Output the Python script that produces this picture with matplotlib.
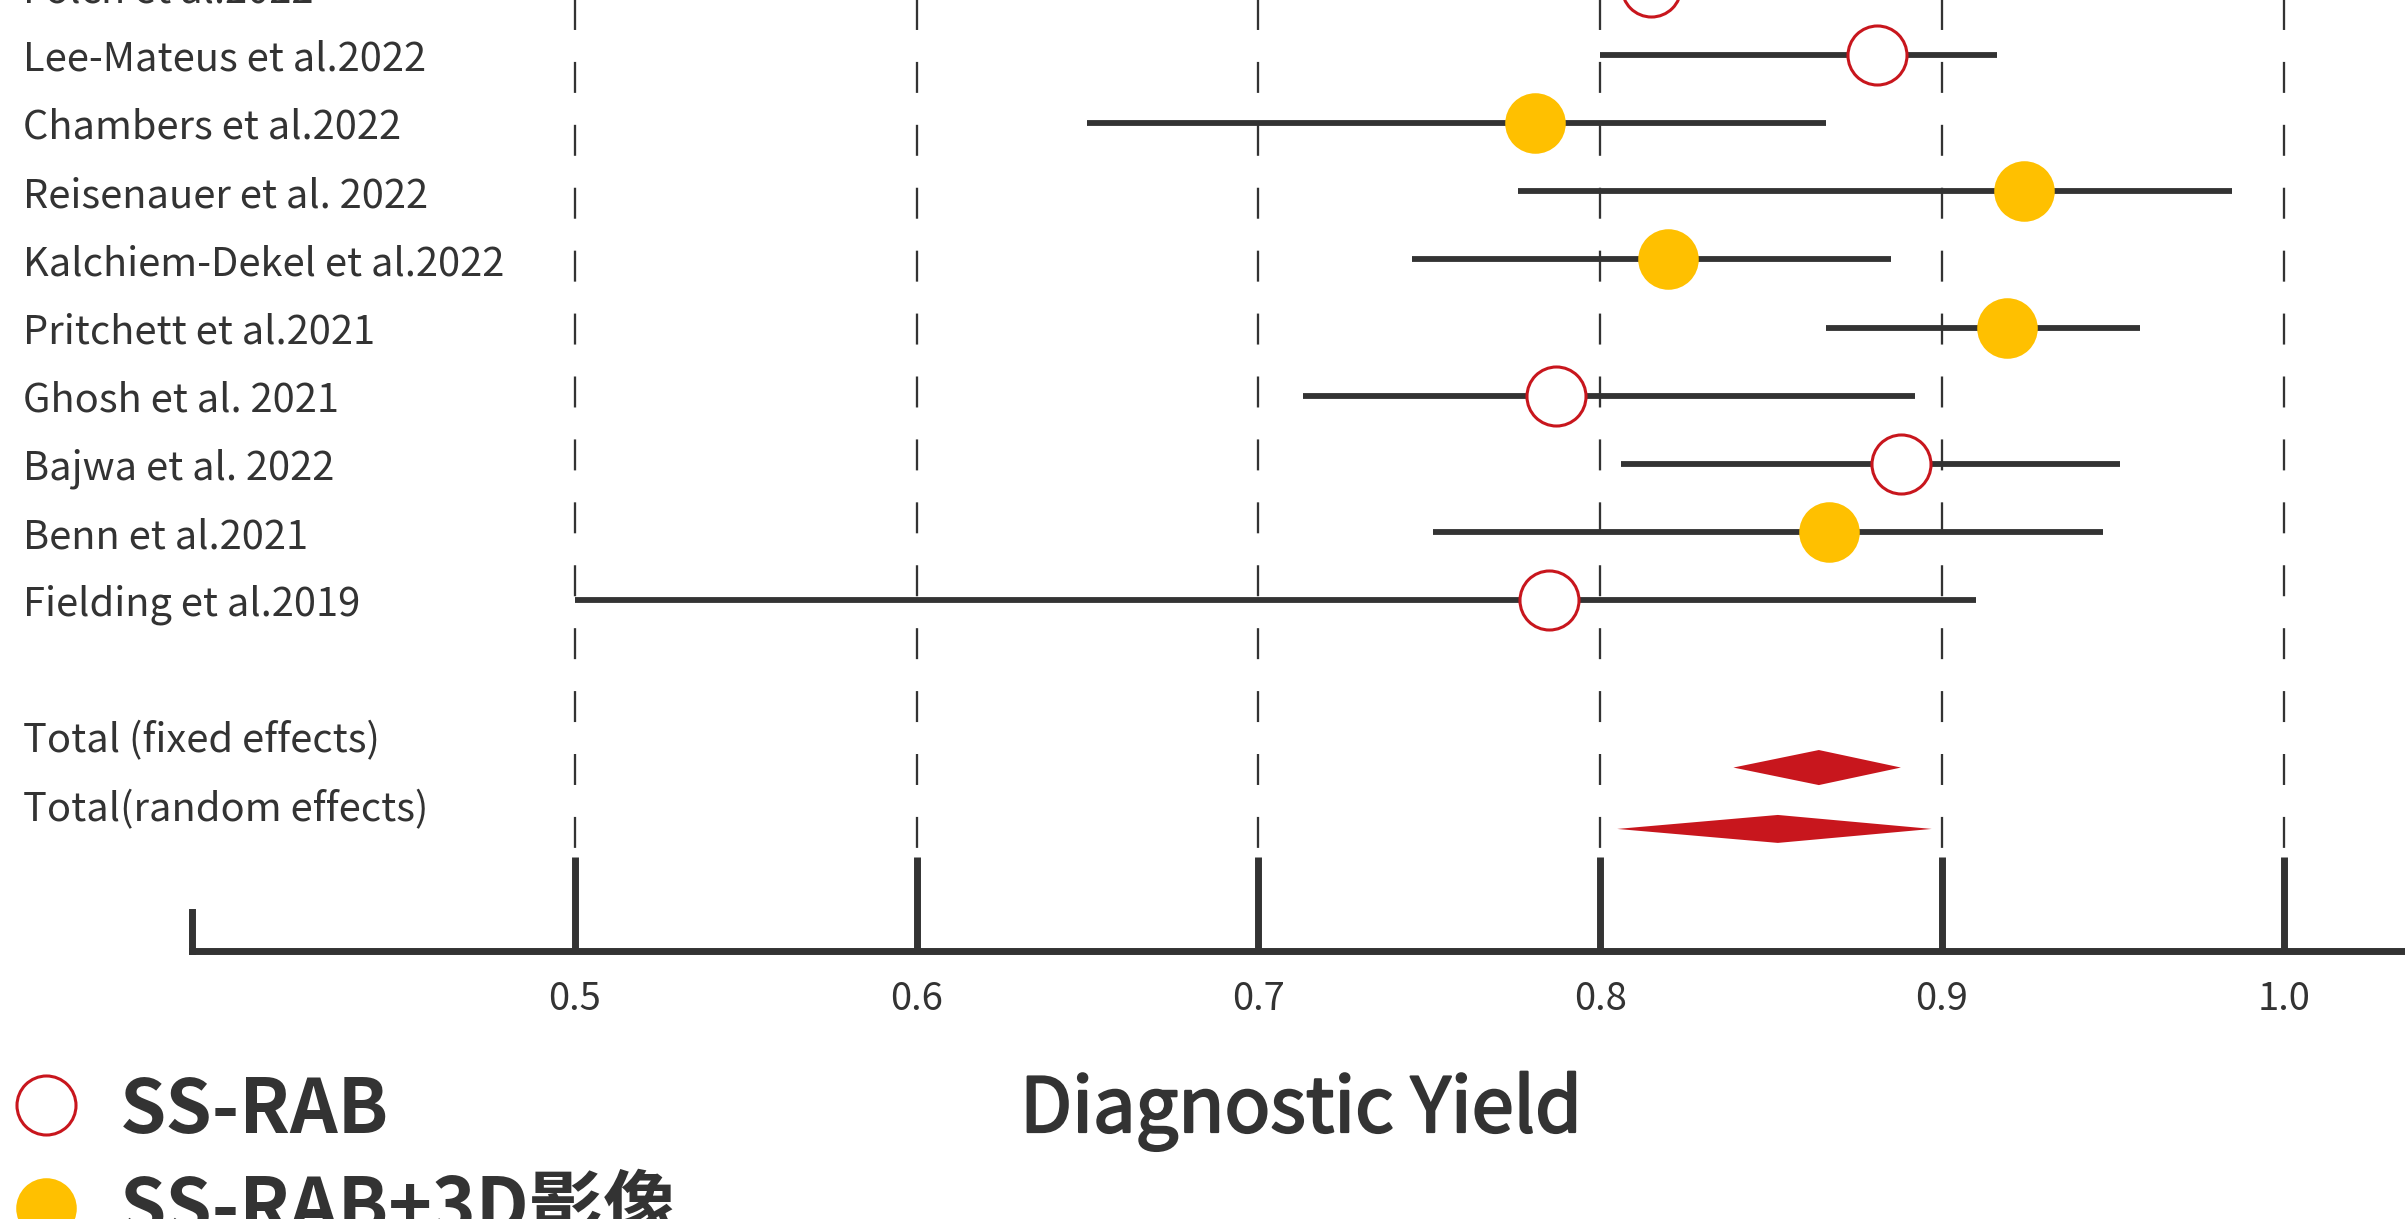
import matplotlib
matplotlib.use('Agg')
import matplotlib.pyplot as plt
import matplotlib.patheffects as pe
from matplotlib.lines import Line2D
from matplotlib.transforms import blended_transform_factory

plt.rcParams['font.family'] = ['Noto Sans CJK SC', 'DejaVu Sans']
plt.rcParams['lines.scale_dashes'] = False

# studies, top to bottom (first row is cut by the top edge)
studies = ['Folch et al.2022', 'Lee-Mateus et al.2022', 'Chambers et al.2022',
           'Reisenauer et al. 2022', 'Kalchiem-Dekel et al.2022', 'Pritchett et al.2021',
           'Ghosh et al. 2021', 'Bajwa et al. 2022', 'Benn et al.2021', 'Fielding et al.2019']
yield_est = [0.815, 0.881, 0.781, 0.924, 0.820, 0.919, 0.787, 0.888, 0.867, 0.785]
ci_low = [0.730, 0.800, 0.650, 0.776, 0.745, 0.866, 0.713, 0.806, 0.751, 0.500]
ci_high = [0.890, 0.916, 0.866, 0.985, 0.885, 0.958, 0.892, 0.952, 0.947, 0.910]
with_3d = [False, False, True, True, True, True, False, False, True, False]

totals = ['Total (fixed effects)', 'Total(random effects)']
total_est = [0.864, 0.852]
total_low = [0.839, 0.805]
total_high = [0.888, 0.897]

xticks = [0.5, 0.6, 0.7, 0.8, 0.9, 1.0]
xtick_labels = ['0.5', '0.6', '0.7', '0.8', '0.9', '1.0']

legend_labels = ['SS-RAB', 'SS-RAB+3D影像']

RED = '#C8161D'
YELLOW = '#FFC000'
DARK = '#333333'

W, H = 2405, 1219
fig = plt.figure(figsize=(W / 100, H / 100), dpi=100)
ax = fig.add_axes([192 / W, 268 / H, 1 - 192 / W, 951 / H])
ax.set_xlim(0.388, 1.0355)
ax.set_ylim(14.14, 0.195)

rows = list(range(len(studies)))
total_rows = [len(studies) + 1, len(studies) + 2]
diamond_rows = [total_rows[0] + 0.45, total_rows[1] + 0.35]
diamond_half = [0.257, 0.205]

# dashed reference lines
ax.vlines(xticks, -0.516, 12.67, colors=DARK, linewidth=1.65,
          linestyles=(0, (22.3, 23.0)), zorder=1)

# confidence intervals
ax.hlines(rows, ci_low, ci_high, colors=DARK, linewidth=4.2, zorder=2)

open_x = [v for v, f in zip(yield_est, with_3d) if not f]
open_y = [r for r, f in zip(rows, with_3d) if not f]
fill_x = [v for v, f in zip(yield_est, with_3d) if f]
fill_y = [r for r, f in zip(rows, with_3d) if f]
ax.plot(open_x, open_y, 'o', ms=42.5, mfc='white', mec=RED, mew=2.2, zorder=3)
ax.plot(fill_x, fill_y, 'o', ms=43.6, mfc=YELLOW, mec=YELLOW, mew=0, zorder=3)

# pooled estimates as diamonds
for est, lo, hi, yc, hh in zip(total_est, total_low, total_high, diamond_rows, diamond_half):
    ax.fill([lo, est, hi, est], [yc, yc - hh, yc, yc + hh], color=RED, lw=0, zorder=3)

# row labels
trans = blended_transform_factory(fig.transFigure, ax.transData)
for r, s in zip(rows + total_rows, studies + totals):
    ax.text(23 / W, r + 0.07, s, transform=trans, ha='left', va='center',
            fontsize=28.7, color=DARK)

# axis styling
for side in ['top', 'right']:
    ax.spines[side].set_visible(False)
ax.spines['bottom'].set_linewidth(5)
ax.spines['bottom'].set_color(DARK)
ax.spines['left'].set_linewidth(5)
ax.spines['left'].set_color(DARK)
ax.spines['left'].set_bounds(13.57, 14.14)
ax.set_yticks([])
ax.set_xticks(xticks)
ax.set_xticklabels(xtick_labels)
ax.tick_params(axis='x', direction='in', length=67.7, width=5, color=DARK,
               pad=21, labelsize=27.5, labelcolor=DARK)
ax.set_facecolor('white')

fig.text(1301 / W, 1 - 1132 / H, 'Diagnostic Yield', ha='center', va='baseline',
         fontsize=54.5, color=DARK,
         path_effects=[pe.withStroke(linewidth=1.6, foreground=DARK)])

# legend
leg_marker_y = [1105, 1208]
leg_baseline = [1133, 1232]
fig.add_artist(Line2D([46 / W], [1 - leg_marker_y[0] / H], transform=fig.transFigure,
                      marker='o', ms=42.5, mfc='white', mec=RED, mew=2.2, ls=''))
fig.add_artist(Line2D([46 / W], [1 - leg_marker_y[1] / H], transform=fig.transFigure,
                      marker='o', ms=43.6, mfc=YELLOW, mec=YELLOW, mew=0, ls=''))
for lab, b in zip(legend_labels, leg_baseline):
    fig.text(120 / W, 1 - b / H, lab, ha='left', va='baseline',
             fontsize=53.5, fontweight='bold', color=DARK)

fig.savefig('out.png', dpi=100, facecolor='white')
